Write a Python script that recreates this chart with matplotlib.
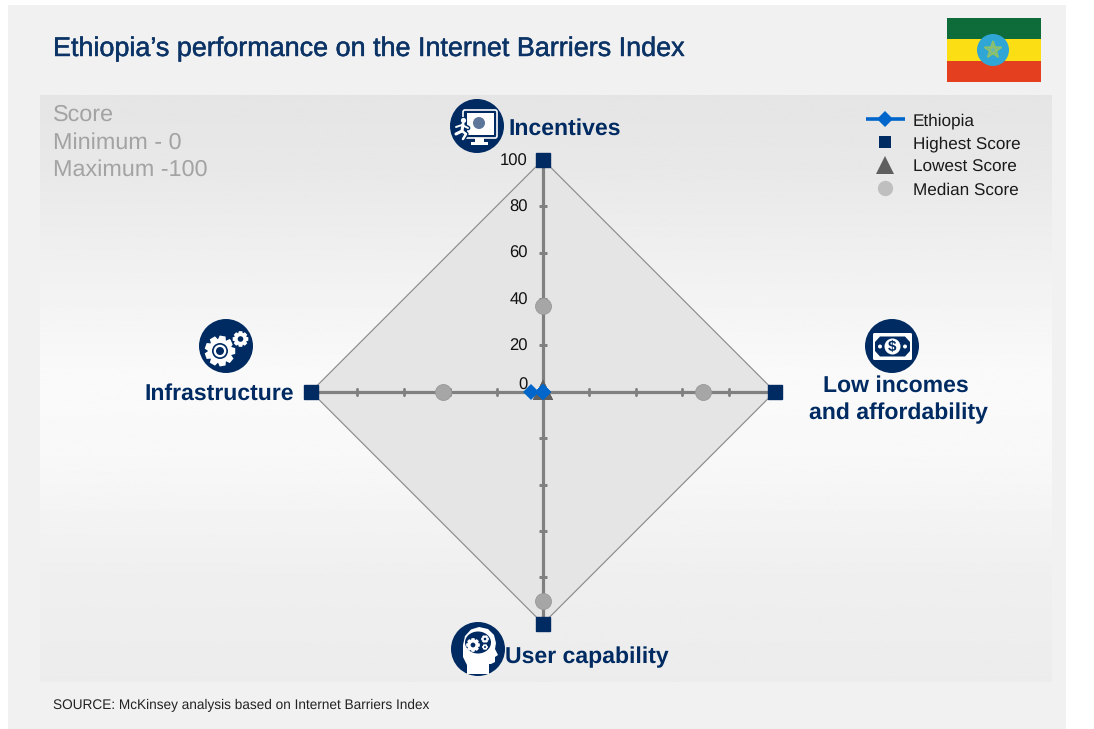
import numpy as np
import matplotlib
matplotlib.use("Agg")
import matplotlib.pyplot as plt
import matplotlib.patheffects as pe
from matplotlib.lines import Line2D
from matplotlib.markers import MarkerStyle
from matplotlib.transforms import Affine2D
from matplotlib.patches import Circle, Rectangle, FancyBboxPatch, Polygon, Ellipse

plt.rcParams['font.family'] = ['Liberation Sans', 'DejaVu Sans']
plt.rcParams['text.hinting'] = 'no_hinting'

# ---- data ----
categories = ["Incentives", "Low incomes", "User capability", "Infrastructure"]
ethiopia = [0, 0, 0, 5]
highest = [100, 100, 100, 100]
lowest = [0, 0, 0, 0]
median = [37, 69, 90, 43]
tick_values = [0, 20, 40, 60, 80, 100]
series_names = ["Ethiopia", "Highest Score", "Lowest Score", "Median Score"]
title = "Ethiopia\u2019s performance on the Internet Barriers Index"
score_lines = ["Score", "Minimum - 0", "Maximum -100"]
source = "SOURCE: McKinsey analysis based on Internet Barriers Index"

NAVY = "#002B62"
BLUE = "#0066CC"
W, H = 1094, 729
fig = plt.figure(figsize=(W / 100, H / 100), dpi=100, facecolor="white")

# ---- background ----
bg = fig.add_axes([0, 0, 1, 1], zorder=0)
bg.set_xlim(0, W); bg.set_ylim(H, 0); bg.axis("off")
bg.add_patch(Rectangle((8, 5), 1058, 724, fc="#F1F1F1", ec="none"))
stops_y = [0, .12, .48, .62, .82, 1]
stops_v = [0xE5, 0xE8, 0xFA, 0xF8, 0xEF, 0xEC]
grad = np.interp(np.linspace(0, 1, 256), stops_y, stops_v)[:, None] / 255
bg.imshow(grad, extent=(40, 1052, 682, 95), cmap="gray", vmin=0, vmax=1, aspect="auto", zorder=1)
bg.set_xlim(0, W); bg.set_ylim(H, 0)

# ---- radar chart ----
cx, cy, R = 543, 391.7, 232
ax = fig.add_axes([(cx - R) / W, 1 - (cy + R) / H, 2 * R / W, 2 * R / H],
                  projection="polar", zorder=1)
ax.patch.set_alpha(0)
ax.set_theta_zero_location("N")
ax.set_theta_direction(-1)
ax.set_ylim(0, 100)
ax.grid(False)
ax.spines["polar"].set_visible(False)
ax.set_xticks([]); ax.set_yticks([])

theta = np.linspace(0, 2 * np.pi, len(categories), endpoint=False)
closed = lambda v: np.r_[v, v[0]]
tclosed = closed(theta)

ax.fill(tclosed, closed(highest), fc="#E5E5E5", ec="#8C8C8C", lw=.85, zorder=1)
for i, t in enumerate(theta):
    ax.plot([t, t], [0, 100], color="#808080", lw=2.3, zorder=2, solid_capstyle="butt")
    tick_marker = "_" if i % 2 == 0 else "|"
    ax.plot([t] * (len(tick_values) - 1), tick_values[1:], ls="none", marker=tick_marker,
            ms=5.2, mew=2, color="#808080", zorder=2)
ax.plot(theta, median, ls="none", marker="o", ms=11.5, mfc="#A6A6A6", mec="#999999", mew=.6,
        zorder=3, clip_on=False)
ax.plot(theta, highest, ls="none", marker="s", ms=10.3, color=NAVY, zorder=4, clip_on=False)
tri = MarkerStyle("^", transform=Affine2D().translate(0, .12))
ax.plot(theta, lowest, ls="none", marker=tri, ms=14.5, color="#5F5F5F", mew=0, zorder=4, clip_on=False)
ax.plot(tclosed, closed(ethiopia), color=BLUE, lw=2.2, marker="D", ms=7.8, mew=0, zorder=5, clip_on=False)
for v in tick_values:
    dy = 4.5 if v == 0 else -1
    ax.annotate(str(v), (0, v), xytext=(-11, dy), textcoords="offset points", ha="right",
                va="center", fontsize=12, color="#111111", zorder=6, annotation_clip=False)

# ---- legend ----
handles = [
    Line2D([], [], color=BLUE, lw=2.6, marker="D", ms=8, mew=0, solid_capstyle="butt"),
    Line2D([], [], ls="none", marker="s", ms=8.8, color=NAVY, mew=0),
    Line2D([], [], ls="none", marker="^", ms=12.5, color="#5F5F5F", mew=0),
    Line2D([], [], ls="none", marker="o", ms=11, color="#BFBFBF", mew=0),
]
leg = fig.legend(handles, series_names, loc="upper left", bbox_to_anchor=(866 / W, 1 - 113 / H),
                 frameon=False, fontsize=12.3, handlelength=2.28, handletextpad=.47,
                 labelspacing=.42, borderpad=0, borderaxespad=0)
leg.set_zorder(5)
for t in leg.get_texts():
    t.set_color("#1A1A1A")

# ---- overlay: text, icons, flag ----
ov = fig.add_axes([0, 0, 1, 1], zorder=2)
ov.set_xlim(0, W); ov.set_ylim(H, 0); ov.axis("off"); ov.patch.set_alpha(0)

ov.text(53, 49, title, fontsize=19.4, color="#0B3366", va="center", ha="left",
        path_effects=[pe.withStroke(linewidth=.35, foreground="#0B3366")])
for y, s in zip([114.5, 142.5, 169.5], score_lines):
    ov.text(53, y, s, fontsize=16.8, color="#A3A3A3", va="center", ha="left")
ov.text(53, 705, source, fontsize=9.8, color="#222222", va="center", ha="left")

lab = dict(fontsize=16.6, fontweight="bold", color=NAVY, va="center")
ov.text(508, 129, categories[0], ha="left", **lab)
ov.text(505, 657, categories[2], ha="left", **lab)
ov.text(294.5, 394, categories[3], ha="right", **lab)
ov.text(895.5, 386, "Low incomes", ha="center", **lab)
ov.text(898.5, 413, "and affordability", ha="center", **lab)


def gear(x, y, r, n, hole, fc="white", bg_col=NAVY, z=3):
    pts = []
    for i in range(n):
        a0 = 2 * np.pi * i / n
        w = np.pi / n
        for da, rr in [(-w * .95, r * .78), (-w * .55, r), (w * .55, r), (w * .95, r * .78)]:
            pts.append((x + rr * np.cos(a0 + da), y + rr * np.sin(a0 + da)))
    ov.add_patch(Polygon(pts, closed=True, fc=fc, ec="none", zorder=z))
    ov.add_patch(Circle((x, y), hole, fc=bg_col, ec="none", zorder=z + .1))


def disc(x, y):
    ov.add_patch(Circle((x, y), 27, fc=NAVY, ec="none", zorder=2))


# incentives icon
disc(477, 126)
ov.add_patch(FancyBboxPatch((463, 110), 34, 28, boxstyle="round,pad=0,rounding_size=2",
                            fc=NAVY, ec="white", lw=1.2, zorder=3))
ov.add_patch(Rectangle((466.5, 113), 27, 21.5, fc="white", ec="none", zorder=3.1))
ov.add_patch(Circle((479, 123), 6, fc="#5C7799", ec="none", zorder=4))
ov.add_patch(Rectangle((475, 138), 9, 5, fc="white", ec="none", zorder=3))
ov.add_patch(Rectangle((471, 142), 17, 2.5, fc="white", ec="none", zorder=3))
limbs = [([463, 462, 456], [124, 131, 134], 2.2), ([462, 466, 463], [131, 134, 139], 1.8),
         ([456, 462, 468], [127, 125, 128], 1.4)]
for xs, ys, lw in limbs:
    ov.plot(xs, ys, color=NAVY, lw=lw + 2, zorder=4.5, solid_capstyle="round")
for xs, ys, lw in limbs:
    ov.plot(xs, ys, color="white", lw=lw, zorder=5, solid_capstyle="round")
ov.add_patch(Circle((463.5, 120.5), 3.6, fc=NAVY, ec="none", zorder=4.6))
ov.add_patch(Circle((463.5, 120.5), 2.6, fc="white", ec="none", zorder=5))

# money icon
disc(892, 346)
ov.add_patch(FancyBboxPatch((873, 333), 39, 27, boxstyle="round,pad=0,rounding_size=1.5",
                            fc="white", ec="none", zorder=3))
note = [(880, 336.5), (905, 336.5), (910, 342), (910, 351), (905, 356.5), (880, 356.5), (875, 351), (875, 342)]
ov.add_patch(Polygon(note, closed=True, fc=NAVY, ec="none", zorder=4))
ov.add_patch(Circle((892.5, 346.5), 8, fc="white", ec="none", zorder=5))
ov.text(892.5, 346.8, "$", fontsize=11, color=NAVY, ha="center", va="center", fontweight="bold", zorder=6)
for dx in (-12.5, 12.5):
    ov.add_patch(Circle((892.5 + dx, 346.5), 2, fc="white", ec="none", zorder=5))

# infrastructure icon
disc(226, 346)
gear(220, 351, 15.5, 9, 8)
ov.add_patch(Circle((220, 351), 6.3, fc="white", ec="none", zorder=3.2))
ov.add_patch(Circle((220, 351), 4, fc=NAVY, ec="none", zorder=3.3))
ov.add_patch(Circle((240.5, 339), 9.5, fc=NAVY, ec="none", zorder=3.4))
gear(240.5, 339, 8, 8, 2.8, z=3.5)

# head icon
disc(478, 649)
head = [(467, 674), (467, 665), (463, 657), (463, 645), (465, 636), (471, 629.5), (479, 627),
        (488, 629), (494, 635), (496, 643), (495, 649), (498, 655), (495, 657), (495, 662),
        (491, 664), (489, 664), (489, 674)]
ov.add_patch(Polygon(head, closed=True, fc="white", ec="none", zorder=3))
ov.add_patch(Ellipse((478, 642.5), 26, 22, fc=NAVY, ec="none", zorder=3.2))
gear(473, 645, 7, 8, 2.4, z=3.5)
gear(485, 639, 4, 6, 1.3, z=3.5)
gear(485, 647, 3, 6, 1, z=3.5)

# flag
fx0, fx1 = 947, 1041
for y0, hh, c in [(18, 20.5, "#0E6B3A"), (38.5, 22, "#FBDF14"), (60.5, 21.5, "#E44020")]:
    ov.add_patch(Rectangle((fx0, y0), fx1 - fx0, hh, fc=c, ec="none", zorder=2))
ov.add_patch(Circle((993, 50), 16, fc="#2FA6D6", ec="none", zorder=3))
ang = -np.pi / 2 + np.arange(5) * 4 * np.pi / 5
star = [(993 + 9 * np.cos(a), 50 + 9 * np.sin(a)) for a in ang]
ov.add_patch(Polygon(star, closed=True, fc="#6FB8A8", ec="#8CC16A", lw=1.2, zorder=4))

fig.savefig("out.png", dpi=100)
